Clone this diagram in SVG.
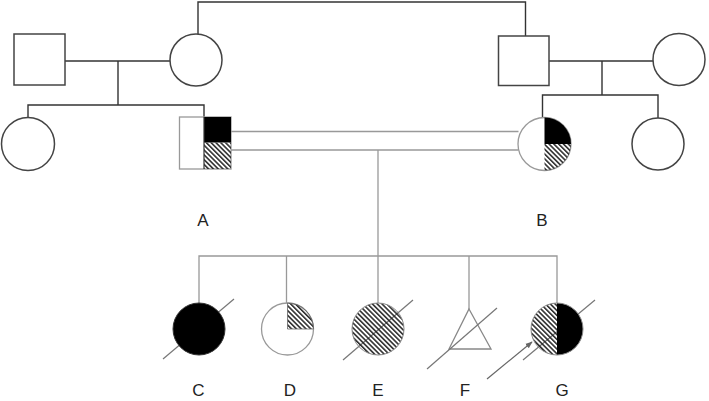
<svg xmlns="http://www.w3.org/2000/svg" width="709" height="401" viewBox="0 0 709 401">
<style>
.dk{fill:none;stroke:#333;stroke-width:1.4}
.sym{fill:#fff;stroke:#444;stroke-width:1.5}
.gl{fill:none;stroke:#999;stroke-width:1.3}
.gs{fill:#fff;stroke:#999;stroke-width:1.3}
.blk{fill:#000}
.hat{fill:url(#hatch)}
.diag{stroke:#777;stroke-width:1.2;fill:none}
.lbl{font-family:"Liberation Sans",Arial,sans-serif;font-size:17px;fill:#222;text-anchor:middle}
</style>
<defs>
<pattern id="hatch" patternUnits="userSpaceOnUse" width="3.4" height="3.4" patternTransform="rotate(-45)">
<line x1="0.8" y1="0" x2="0.8" y2="3.4" stroke="#222" stroke-width="1.5"/>
</pattern>
<marker id="arr" viewBox="0 0 10 10" refX="9" refY="5" markerWidth="6" markerHeight="6" orient="auto">
<path d="M0,1 L10,5 L0,9 Z" fill="#666"/>
</marker>
</defs>
<g id="connectors">
<path class="dk" d="M198,34 V2 H525.5 V36"/>
<path class="dk" d="M65,61 H170"/>
<path class="dk" d="M118,61 V105 M28,118 V105 H204 V117"/>
<path class="dk" d="M549,61 H653"/>
<path class="dk" d="M602,61 V95 M542.5,118 V95 H658 V118"/>
<path class="gl" d="M231,131.5 H518.5 M231,150 H518.5"/>
<path class="gl" d="M378,150 V303"/>
<path class="gl" d="M199,303 V256 H557 V303 M286.5,303 V256 M469,256 V309"/>
</g>
<g id="gp-left-male"><rect class="sym" x="14" y="34" width="51" height="51"/></g>
<g id="gp-left-female"><circle class="sym" cx="196" cy="60" r="26"/></g>
<g id="left-sister"><circle class="sym" cx="28" cy="144" r="26.5"/></g>
<g id="gp-right-male"><rect class="sym" x="498.5" y="36" width="50.5" height="49.5"/></g>
<g id="gp-right-female"><circle class="sym" cx="679" cy="59.5" r="26"/></g>
<g id="right-sister"><circle class="sym" cx="658" cy="144" r="26"/></g>
<g id="A">
<rect class="gs" x="179.5" y="117" width="51.5" height="52"/>
<rect class="blk" x="204" y="117" width="27" height="25.5"/>
<rect class="hat" x="204" y="142.5" width="27" height="26.5"/>
<line x1="204" y1="117" x2="204" y2="169" stroke="#333" stroke-width="1.2"/>
<text class="lbl" x="203" y="226">A</text>
</g>
<g id="B">
<circle class="gs" cx="544.5" cy="144" r="26.5"/>
<path class="blk" d="M544.5,144 V117.5 A26.5,26.5 0 0 1 571,144 Z"/>
<path class="hat" d="M544.5,144 H571 A26.5,26.5 0 0 1 544.5,170.5 Z"/>
<text class="lbl" x="542" y="226">B</text>
</g>
<g id="C">
<line class="diag" x1="163" y1="359" x2="234" y2="299"/>
<circle cx="199" cy="329" r="26" fill="#000" stroke="#333" stroke-width="1"/>
<text class="lbl" x="198.5" y="396">C</text>
</g>
<g id="D">
<circle class="gs" cx="287.5" cy="329" r="26"/>
<path class="hat" d="M287.5,329 V303 A26,26 0 0 1 313.5,329 Z" stroke="#666" stroke-width="0.8"/>
<text class="lbl" x="290" y="396">D</text>
</g>
<g id="E">
<circle cx="378" cy="329" r="26" fill="#fff"/>
<line class="diag" x1="343" y1="360" x2="413" y2="300"/>
<circle class="hat" cx="378" cy="329" r="26" stroke="#888" stroke-width="1"/>
<text class="lbl" x="378" y="396">E</text>
</g>
<g id="F">
<path d="M469,309 L491,349 H449 Z" fill="#fff" stroke="#888" stroke-width="1.3"/>
<line class="diag" x1="427" y1="369" x2="497" y2="308"/>
<text class="lbl" x="465" y="396">F</text>
</g>
<g id="G">
<circle cx="557" cy="329" r="26" fill="#fff"/>
<line class="diag" x1="523" y1="360" x2="595" y2="300"/>
<path class="hat" d="M557,303 A26,26 0 0 0 557,355 Z"/>
<path class="blk" d="M557,303 A26,26 0 0 1 557,355 Z"/>
<circle cx="557" cy="329" r="26" fill="none" stroke="#888" stroke-width="1"/>
<line x1="487" y1="379" x2="532" y2="342" stroke="#666" stroke-width="1.2" marker-end="url(#arr)"/>
<text class="lbl" x="562" y="396">G</text>
</g>
</svg>
